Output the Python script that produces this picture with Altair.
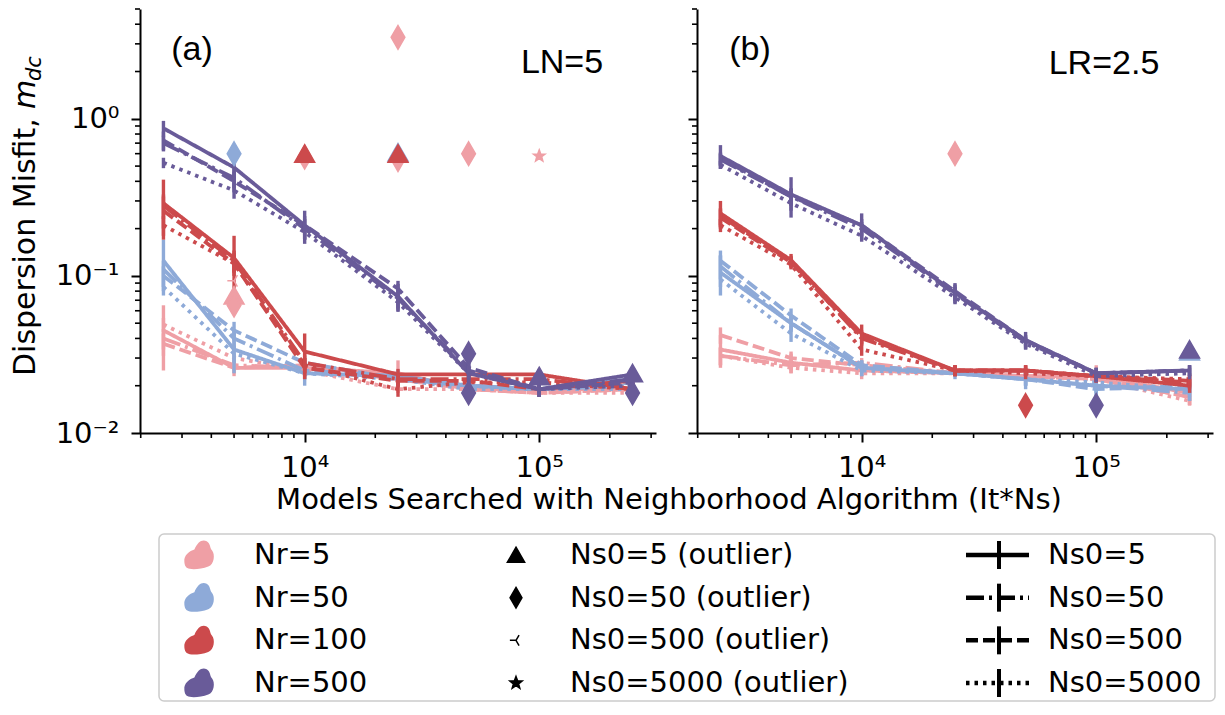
import math
import altair as alt
import pandas as pd

# ---------------- data ----------------
X_VALUES = [2500, 5000, 10000, 25000, 50000, 100000, 250000]
NR_LEVELS = ["5", "50", "100", "500"]
NS0_LEVELS = ["5", "50", "500", "5000"]

# Panel (a)  LN=5 ; each inner row follows NS0_LEVELS
A_NR5_MEAN = [
    [0.045, 0.026, 0.026, 0.024, 0.019, 0.019, 0.019],
    [0.040, 0.027, 0.026, 0.022, 0.019, 0.018, 0.019],
    [0.037, 0.026, 0.027, 0.023, 0.019, 0.018, 0.019],
    [0.049, 0.030, 0.025, 0.019, 0.019, 0.018, 0.018],
]
A_NR5_ERR = [
    [0.020, 0.003, 0.002, 0.005, 0.001, 0.001, 0.001],
    [0.006, 0.002, 0.002, 0.002, 0.001, 0.001, 0.001],
    [0.006, 0.002, 0.002, 0.002, 0.001, 0.001, 0.001],
    [0.005, 0.002, 0.002, 0.001, 0.001, 0.001, 0.001],
]
A_NR50_MEAN = [
    [0.125, 0.034, 0.024, 0.023, 0.020, 0.019, 0.022],
    [0.110, 0.040, 0.025, 0.023, 0.020, 0.019, 0.021],
    [0.100, 0.045, 0.028, 0.022, 0.020, 0.019, 0.020],
    [0.085, 0.032, 0.024, 0.022, 0.019, 0.019, 0.019],
]
A_NR50_ERR = [
    [0.045, 0.010, 0.004, 0.002, 0.001, 0.001, 0.003],
    [0.015, 0.006, 0.003, 0.002, 0.001, 0.001, 0.002],
    [0.015, 0.006, 0.003, 0.002, 0.001, 0.001, 0.002],
    [0.010, 0.004, 0.002, 0.002, 0.001, 0.001, 0.001],
]
A_NR100_MEAN = [
    [0.290, 0.130, 0.033, 0.0236, 0.0236, 0.0236, 0.019],
    [0.280, 0.125, 0.028, 0.022, 0.022, 0.022, 0.019],
    [0.260, 0.120, 0.026, 0.0215, 0.0215, 0.019, 0.0215],
    [0.210, 0.120, 0.027, 0.019, 0.021, 0.021, 0.019],
]
A_NR100_ERR = [
    [0.120, 0.050, 0.010, 0.002, 0.002, 0.002, 0.002],
    [0.050, 0.020, 0.004, 0.002, 0.002, 0.002, 0.002],
    [0.060, 0.020, 0.004, 0.002, 0.002, 0.002, 0.002],
    [0.030, 0.015, 0.003, 0.002, 0.002, 0.002, 0.002],
]
A_NR500_MEAN = [
    [0.870, 0.490, 0.210, 0.074, 0.024, 0.019, 0.0236],
    [0.700, 0.420, 0.200, 0.072, 0.025, 0.019, 0.022],
    [0.730, 0.400, 0.210, 0.083, 0.026, 0.019, 0.021],
    [0.525, 0.350, 0.190, 0.068, 0.024, 0.019, 0.020],
]
A_NR500_ERR = [
    [0.100, 0.100, 0.050, 0.015, 0.004, 0.002, 0.002],
    [0.080, 0.060, 0.030, 0.010, 0.004, 0.002, 0.002],
    [0.100, 0.060, 0.030, 0.010, 0.004, 0.002, 0.002],
    [0.040, 0.040, 0.020, 0.008, 0.003, 0.002, 0.002],
]

# Panel (b)  LR=2.5
B_NR5_MEAN = [
    [0.034, 0.028, 0.025, 0.024, 0.023, 0.023, 0.018],
    [0.031, 0.027, 0.028, 0.024, 0.023, 0.022, 0.017],
    [0.042, 0.030, 0.027, 0.024, 0.023, 0.022, 0.017],
    [0.031, 0.026, 0.024, 0.024, 0.023, 0.022, 0.016],
]
B_NR5_ERR = [
    [0.008, 0.004, 0.002, 0.001, 0.001, 0.004, 0.002],
    [0.004, 0.002, 0.002, 0.001, 0.001, 0.002, 0.002],
    [0.005, 0.003, 0.002, 0.001, 0.001, 0.002, 0.002],
    [0.004, 0.002, 0.002, 0.001, 0.001, 0.002, 0.001],
]
B_NR50_MEAN = [
    [0.105, 0.050, 0.026, 0.024, 0.022, 0.020, 0.019],
    [0.115, 0.050, 0.026, 0.024, 0.022, 0.020, 0.018],
    [0.125, 0.056, 0.027, 0.024, 0.022, 0.019, 0.020],
    [0.095, 0.043, 0.025, 0.024, 0.022, 0.021, 0.019],
]
B_NR50_ERR = [
    [0.030, 0.006, 0.003, 0.002, 0.003, 0.004, 0.003],
    [0.020, 0.005, 0.002, 0.001, 0.002, 0.002, 0.002],
    [0.020, 0.006, 0.002, 0.001, 0.002, 0.002, 0.002],
    [0.010, 0.005, 0.002, 0.001, 0.002, 0.002, 0.002],
]
B_NR100_MEAN = [
    [0.250, 0.126, 0.043, 0.025, 0.025, 0.023, 0.020],
    [0.240, 0.124, 0.040, 0.025, 0.025, 0.023, 0.021],
    [0.235, 0.122, 0.041, 0.025, 0.025, 0.023, 0.0215],
    [0.210, 0.118, 0.034, 0.025, 0.024, 0.023, 0.022],
]
B_NR100_ERR = [
    [0.050, 0.012, 0.006, 0.002, 0.002, 0.002, 0.002],
    [0.030, 0.010, 0.004, 0.002, 0.002, 0.002, 0.002],
    [0.030, 0.010, 0.004, 0.002, 0.002, 0.002, 0.002],
    [0.020, 0.008, 0.003, 0.002, 0.002, 0.002, 0.002],
]
B_NR500_MEAN = [
    [0.580, 0.330, 0.210, 0.078, 0.039, 0.024, 0.025],
    [0.550, 0.320, 0.200, 0.077, 0.038, 0.024, 0.025],
    [0.560, 0.320, 0.210, 0.080, 0.039, 0.024, 0.025],
    [0.510, 0.290, 0.180, 0.073, 0.037, 0.023, 0.024],
]
B_NR500_ERR = [
    [0.100, 0.095, 0.040, 0.012, 0.005, 0.002, 0.002],
    [0.050, 0.040, 0.020, 0.008, 0.003, 0.002, 0.002],
    [0.050, 0.040, 0.020, 0.008, 0.003, 0.002, 0.002],
    [0.030, 0.030, 0.015, 0.006, 0.003, 0.002, 0.002],
]

# Outliers
A_OUT_NR = ["5", "5", "5", "50", "5", "100", "5", "50", "100", "5", "5", "5",
            "500", "500", "500", "500", "500"]
A_OUT_NS0 = ["5", "500", "50", "50", "50", "5", "50", "5", "5", "50", "50", "5000",
             "50", "50", "5", "50", "5"]
A_OUT_X = [5000, 5000, 5000, 5000, 10000, 10000, 25000, 25000, 25000, 25000, 50000, 100000,
           50000, 50000, 100000, 250000, 250000]
A_OUT_Y = [0.075, 0.093, 0.065, 0.60, 0.57, 0.60, 0.55, 0.61, 0.60, 3.3, 0.60, 0.58,
           0.032, 0.018, 0.023, 0.018, 0.024]

B_OUT_NR = ["5", "100", "500", "50", "500"]
B_OUT_NS0 = ["50", "50", "50", "5", "5"]
B_OUT_X = [25000, 50000, 100000, 250000, 250000]
B_OUT_Y = [0.60, 0.015, 0.015, 0.033, 0.034]

NR_COLORS = ["#ef9fa5", "#8eaad8", "#cc4a4c", "#695b99"]

# ---------------- styling ----------------
FONT = "DejaVu Sans"
W, H = 516, 424
X_DOMAIN = [1986, 314700]
Y_DOMAIN = [0.01, 5]

TRI = "M0,-0.9L1,0.85L-1,0.85Z"
THIN_DIAMOND = "M0,-1L0.58,0L0,1L-0.58,0Z"
TRI_LEFT = "M0,0L-1,0M0,0L0.5,-0.87M0,0L0.5,0.87"
_pts = []
for k in range(10):
    r = 1.0 if k % 2 == 0 else 0.42
    a = math.radians(-90 + 36 * k)
    _pts.append(f"{r * math.cos(a):.3f},{r * math.sin(a):.3f}")
STAR = "M" + "L".join(_pts) + "Z"
BLOB = ("M-0.95,0.45 C-1.0,0.0 -0.6,-0.25 -0.3,-0.35 C-0.1,-0.85 0.2,-1.05 0.5,-0.9 "
        "C0.75,-0.75 0.7,-0.45 0.85,-0.3 C1.05,-0.05 1.0,0.6 0.6,0.75 "
        "C0.2,0.9 -0.3,0.95 -0.6,0.9 C-0.85,0.85 -0.93,0.7 -0.95,0.45 Z")

# marker areas (px^2) per Ns0 level, in plots and in the legend
PLOT_MARKER_SIZE = {"5": 400, "50": 560, "500": 180, "5000": 150}
LEGEND_MARKER_SIZE = {"5": 300, "50": 420, "500": 150, "5000": 170}

COLOR_SCALE = alt.Scale(domain=NR_LEVELS, range=NR_COLORS)
DASH_SCALE = alt.Scale(domain=NS0_LEVELS, range=[[1, 0], [18, 5, 3, 5], [12, 5], [3.5, 5]])
SHAPE_SCALE = alt.Scale(domain=NS0_LEVELS, range=[TRI, THIN_DIAMOND, TRI_LEFT, STAR])
XS = alt.Scale(type="log", domain=X_DOMAIN, nice=False)
YS = alt.Scale(type="log", domain=Y_DOMAIN, nice=False)

X_MAJOR = [10000, 100000]
X_MINOR = [m * 10 ** e for e in (3, 4, 5) for m in range(2, 10)
           if X_DOMAIN[0] <= m * 10 ** e <= X_DOMAIN[1]]
Y_MAJOR = [0.01, 0.1, 1]
Y_MINOR = [round(m * 10.0 ** e, 4) for e in (-2, -1, 0) for m in range(2, 10)
           if Y_DOMAIN[0] <= m * 10.0 ** e <= Y_DOMAIN[1]]

AX_COMMON = dict(grid=False, title=None, domainColor="black", domainWidth=2,
                 tickColor="black", tickWidth=2, tickSize=9, labelFont=FONT,
                 labelFontSize=29, labelColor="black", labelOverlap=False, labelFlush=False)
X_AXIS = alt.Axis(values=X_MAJOR, labelPadding=11,
                  labelExpr="datum.value == 10000 ? '10⁴' : '10⁵'", **AX_COMMON)
Y_AXIS_A = alt.Axis(values=Y_MAJOR, labelPadding=12,
                    labelExpr="datum.value == 1 ? '10⁰' : (datum.value == 0.1 ? '10⁻¹' : '10⁻²')",
                    **AX_COMMON)
Y_AXIS_B = alt.Axis(values=Y_MAJOR, labels=False, **AX_COMMON)


def long_frame(panel, means, errs):
    rows = []
    for nr, mean_rows, err_rows in zip(NR_LEVELS, means, errs):
        for ns0, m_list, e_list in zip(NS0_LEVELS, mean_rows, err_rows):
            for x, m, e in zip(X_VALUES, m_list, e_list):
                rows.append(dict(panel=panel, nr=nr, ns0=ns0, x=x, y=m, lo=m - e, hi=m + e))
    return pd.DataFrame(rows)


def out_frame(nrs, ns0s, xs, ys):
    return pd.DataFrame(dict(nr=nrs, ns0=ns0s, x=xs, y=ys,
                             msize=[PLOT_MARKER_SIZE[v] for v in ns0s]))


df_a = long_frame("a", [A_NR5_MEAN, A_NR50_MEAN, A_NR100_MEAN, A_NR500_MEAN],
                  [A_NR5_ERR, A_NR50_ERR, A_NR100_ERR, A_NR500_ERR])
df_b = long_frame("b", [B_NR5_MEAN, B_NR50_MEAN, B_NR100_MEAN, B_NR500_MEAN],
                  [B_NR5_ERR, B_NR50_ERR, B_NR100_ERR, B_NR500_ERR])
out_a = out_frame(A_OUT_NR, A_OUT_NS0, A_OUT_X, A_OUT_Y)
out_b = out_frame(B_OUT_NR, B_OUT_NS0, B_OUT_X, B_OUT_Y)


def text_layer(txt, x, y, size, font=FONT, **kw):
    return alt.Chart(pd.DataFrame({"t": [txt]})).mark_text(
        font=font, fontSize=size, color="black", **kw
    ).encode(text="t:N", x=alt.value(x), y=alt.value(y))


def make_panel(df, outs, y_axis, tag, tag_xy, note, note_xy, with_ytitle):
    xenc = alt.X("x:Q", scale=XS, axis=X_AXIS)
    yenc = alt.Y("y:Q", scale=YS, axis=y_axis)
    base = alt.Chart(df)
    layers = []
    # minor ticks
    layers.append(alt.Chart(pd.DataFrame({"t": X_MINOR})).mark_rule(color="black", strokeWidth=1.6)
                  .encode(x=alt.X("t:Q", scale=XS, axis=X_AXIS), y=alt.value(H), y2=alt.value(H + 5)))
    layers.append(alt.Chart(pd.DataFrame({"t": Y_MINOR})).mark_rule(color="black", strokeWidth=1.6)
                  .encode(y=alt.Y("t:Q", scale=YS, axis=y_axis), x=alt.value(0), x2=alt.value(-5)))
    for nr in NR_LEVELS:
        sub = base.transform_filter(alt.datum.nr == nr)
        layers.append(sub.mark_line(strokeWidth=3.8).encode(
            x=xenc, y=yenc,
            color=alt.Color("nr:N", scale=COLOR_SCALE, legend=None),
            strokeDash=alt.StrokeDash("ns0:N", scale=DASH_SCALE, legend=None),
            detail="ns0:N"))
        layers.append(sub.mark_rule(strokeWidth=3.4).encode(
            x=xenc, y=alt.Y("lo:Q", scale=YS, axis=y_axis), y2="hi:Q",
            color=alt.Color("nr:N", scale=COLOR_SCALE, legend=None)))
    layers.append(alt.Chart(outs).mark_point(filled=True, opacity=1, strokeWidth=1.5).encode(
        x=xenc, y=yenc,
        color=alt.Color("nr:N", scale=COLOR_SCALE, legend=None),
        stroke=alt.Stroke("nr:N", scale=COLOR_SCALE, legend=None),
        shape=alt.Shape("ns0:N", scale=SHAPE_SCALE, legend=None),
        size=alt.Size("msize:Q", scale=None, legend=None)))
    layers.append(text_layer(tag, tag_xy[0], tag_xy[1], 34, font="Liberation Sans",
                             align="center", baseline="middle"))
    layers.append(text_layer(note, note_xy[0], note_xy[1], 34, font="Liberation Sans",
                             align="center", baseline="middle"))
    if with_ytitle:
        layers.append(text_layer("Dispersion Misfit, ", -105, 367, 30, angle=270,
                                 align="left", baseline="alphabetic"))
        layers.append(text_layer("m", -105, 100, 30, angle=270, align="left",
                                 baseline="alphabetic", fontStyle="italic"))
        layers.append(text_layer("dc", -99, 72, 21, angle=270, align="left",
                                 baseline="alphabetic", fontStyle="italic"))
    return alt.layer(*layers).properties(width=W, height=H)


panel_a = make_panel(df_a, out_a, Y_AXIS_A, "(a)", (52, 41), "LN=5", (422, 54), True)
panel_b = make_panel(df_b, out_b, Y_AXIS_B, "(b)", (53, 41), "LR=2.5", (407, 55), False)

top = alt.hconcat(
    panel_a, panel_b, spacing=31,
    title=alt.TitleParams("Models Searched with Neighborhood Algorithm (It*Ns)",
                          orient="bottom", anchor="middle", fontSize=29, font=FONT,
                          fontWeight="normal", color="black", offset=4, dx=57),
)

# ---------------- custom legend (origin = left edge of panel (a) plot area) ----------------
LW, LH = 1076, 169
leg_df = pd.DataFrame(dict(
    row=[0, 1, 2, 3],
    nr=NR_LEVELS,
    ns0=NS0_LEVELS,
    msize=[LEGEND_MARKER_SIZE[v] for v in NS0_LEVELS],
    nr_label=[f"Nr={v}" for v in NR_LEVELS],
    out_label=[f"Ns0={v} (outlier)" for v in NS0_LEVELS],
    line_label=[f"Ns0={v}" for v in NS0_LEVELS],
))
ROW_Y = alt.Y("row:Q", scale=alt.Scale(domain=[0, 3], range=[22, 150]), axis=None)
lbase = alt.Chart(leg_df)
legend = alt.layer(
    alt.Chart(pd.DataFrame({"k": [0]})).mark_rect(
        fill="white", stroke="#cccccc", strokeWidth=1.5, cornerRadius=5
    ).encode(x=alt.value(19), x2=alt.value(1075), y=alt.value(1), y2=alt.value(LH - 1)),
    lbase.mark_point(shape=BLOB, filled=True, size=950, opacity=1).encode(
        x=alt.value(59), y=ROW_Y, color=alt.Color("nr:N", scale=COLOR_SCALE, legend=None)),
    lbase.mark_text(align="left", baseline="middle", font=FONT, fontSize=29, color="black").encode(
        x=alt.value(114), y=ROW_Y, text="nr_label:N"),
    lbase.mark_point(filled=True, color="black", opacity=1, strokeWidth=1.5).encode(
        x=alt.value(376), y=ROW_Y, stroke=alt.value("black"),
        shape=alt.Shape("ns0:N", scale=SHAPE_SCALE, legend=None),
        size=alt.Size("msize:Q", scale=None, legend=None)),
    lbase.mark_text(align="left", baseline="middle", font=FONT, fontSize=29, color="black").encode(
        x=alt.value(430), y=ROW_Y, text="out_label:N"),
    lbase.mark_rule(color="black", strokeWidth=4.5).encode(
        x=alt.value(826), x2=alt.value(889), y=ROW_Y,
        strokeDash=alt.StrokeDash("ns0:N", scale=DASH_SCALE, legend=None)),
    lbase.mark_rule(color="black", strokeWidth=4, yOffset=-14, y2Offset=14).encode(
        x=alt.value(859), y=ROW_Y, y2=alt.Y2("row:Q")),
    lbase.mark_text(align="left", baseline="middle", font=FONT, fontSize=29, color="black").encode(
        x=alt.value(908), y=ROW_Y, text="line_label:N"),
).properties(width=LW, height=LH)

chart = alt.vconcat(top, legend, spacing=18).properties(
    padding={"left": 3, "top": 0, "right": 0, "bottom": 0}
).configure(font=FONT).configure_view(stroke=None)

chart.save("out.html", embed_options={"renderer": "svg", "actions": False})
